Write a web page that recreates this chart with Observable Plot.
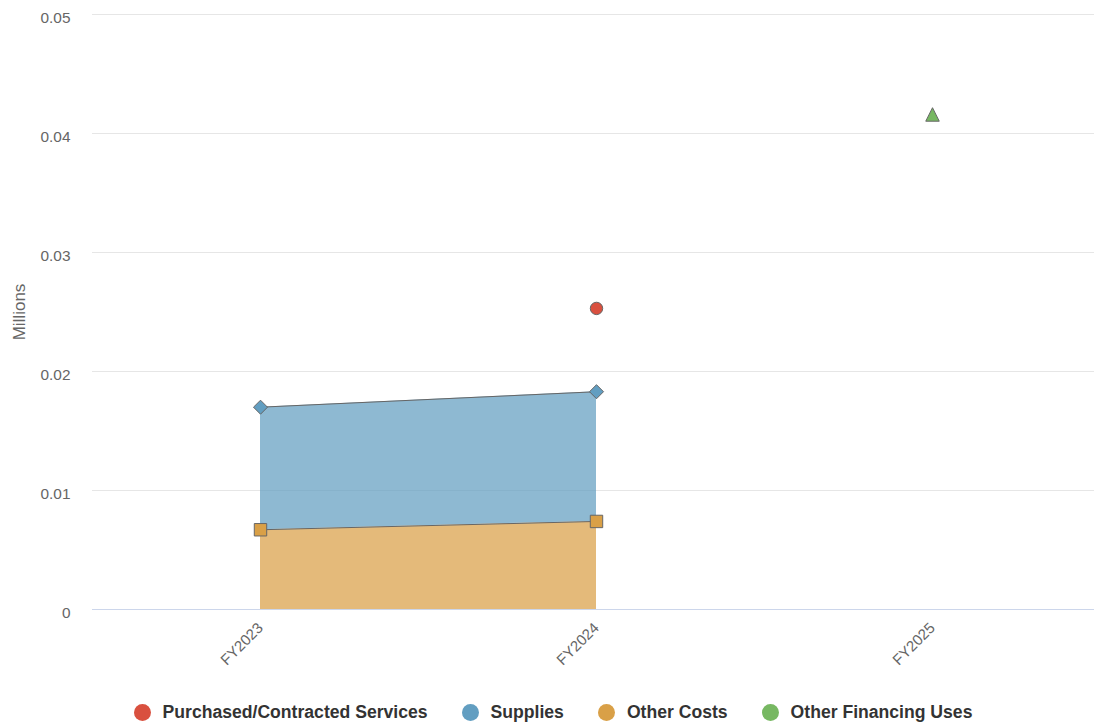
<!DOCTYPE html>
<html>
<head>
<meta charset="utf-8">
<script src="https://cdn.jsdelivr.net/npm/d3@7"></script>
<script src="https://cdn.jsdelivr.net/npm/@observablehq/plot@0.6"></script>
<style>
  body { margin: 0; background: #fff; font-family: "Liberation Sans", Arial, Helvetica, sans-serif; }
  #chart { width: 1094px; }
  #chart svg g[aria-label="y-axis label"] text { font-size: 17px; }
  .legend { display: flex; justify-content: center; align-items: center; height: 24px; margin-left: 12px; }
  .legend .item { display: flex; align-items: center; margin-right: 34px; font-weight: bold; font-size: 17.6px; color: #333; }
  .legend .item:last-child { margin-right: 0; }
  .legend .sw { width: 17px; height: 17px; border-radius: 50%; margin-right: 12px; }
</style>
</head>
<body>
<div id="chart"></div>
<script>
// Categories and series values (in Millions); null = no value
const categories = ["FY2023", "FY2024", "FY2025"];
const seriesNames = ["Purchased/Contracted Services", "Supplies", "Other Costs", "Other Financing Uses"];
const purchasedContracted = [null, 0.0070, null];
const supplies = [0.0103, 0.0109, null];
const otherCosts = [0.0067, 0.0074, null];
const otherFinancingUses = [null, null, 0.0416];
const seriesColors = ["#d9503f", "#629ec1", "#d9a047", "#77b862"];
const yTicks = [0, 0.01, 0.02, 0.03, 0.04, 0.05];

const valuesBySeries = [purchasedContracted, supplies, otherCosts, otherFinancingUses];

// Marker shapes (Highcharts-like)
const rad = size => Math.sqrt(size / Math.PI);
const symCircle = {draw(ctx, size) { const r = rad(size) * 1.15; ctx.moveTo(r, 0); ctx.arc(0, 0, r, 0, 2 * Math.PI); }};
const symDiamond = {draw(ctx, size) { const r = rad(size) * 1.3; ctx.moveTo(0, -r); ctx.lineTo(r, 0); ctx.lineTo(0, r); ctx.lineTo(-r, 0); ctx.closePath(); }};
const symSquare = {draw(ctx, size) { const r = rad(size) * 1.15; ctx.rect(-r, -r, 2 * r, 2 * r); }};
const symTriangle = {draw(ctx, size) { const r = rad(size) * 1.25; ctx.moveTo(0, -r); ctx.lineTo(r, r); ctx.lineTo(-r, r); ctx.closePath(); }};
const seriesSymbols = [symCircle, symDiamond, symSquare, symTriangle];

// Stack: last series at the bottom (Highcharts order)
const rows = [];
categories.forEach((cat, i) => {
  let base = 0;
  for (let s = seriesNames.length - 1; s >= 0; s--) {
    const v = valuesBySeries[s][i];
    if (v == null) continue;
    rows.push({series: seriesNames[s], cat, y1: base, y2: base + v});
    base += v;
  }
});

const chart = Plot.plot({
  width: 1094,
  height: 700,
  marginLeft: 92,
  marginRight: 0,
  marginTop: 14,
  marginBottom: 91,
  style: {fontFamily: '"Liberation Sans", Arial, Helvetica, sans-serif', background: "#fff"},
  x: {type: "point", domain: categories, range: [260, 932], padding: 0},
  y: {domain: [0, 0.05]},
  color: {domain: seriesNames, range: seriesColors},
  symbol: {domain: seriesNames, range: seriesSymbols},
  marks: [
    Plot.gridY(yTicks, {stroke: "#e6e6e6", strokeOpacity: 1}),
    Plot.axisY(yTicks, {
      tickSize: 0, tickPadding: 22, fontSize: 15.4, color: "#666", dy: 4,
      tickFormat: d => String(+d.toFixed(2)),
      label: "Millions", labelAnchor: "center", labelArrow: "none", labelOffset: 80
    }),
    Plot.axisX({
      tickSize: 0, tickRotate: -45, tickPadding: 16, fontSize: 15, color: "#666", label: null
    }),
    Plot.areaY(rows, {x: "cat", y1: "y1", y2: "y2", z: "series", fill: "series", fillOpacity: 0.72}),
    Plot.ruleY([0], {stroke: "#ccd6eb", strokeWidth: 1}),
    Plot.line(rows, {x: "cat", y: "y2", z: "series", stroke: "#666", strokeWidth: 1}),
    Plot.dot(rows, {x: "cat", y: "y2", symbol: "series", fill: "series", stroke: "#666", strokeWidth: 1, r: 5.4})
  ]
});
document.getElementById("chart").appendChild(chart);

const legend = document.createElement("div");
legend.className = "legend";
seriesNames.forEach((name, i) => {
  const item = document.createElement("div");
  item.className = "item";
  const sw = document.createElement("span");
  sw.className = "sw";
  sw.style.background = seriesColors[i];
  item.appendChild(sw);
  item.appendChild(document.createTextNode(name));
  legend.appendChild(item);
});
document.getElementById("chart").appendChild(legend);
</script>
</body>
</html>
